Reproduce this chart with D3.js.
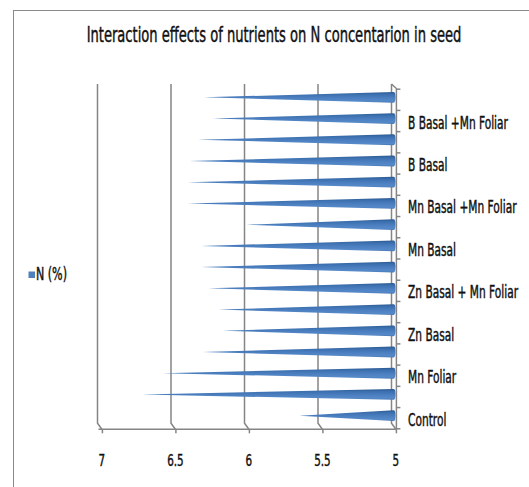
<!DOCTYPE html>
<html>
<head>
<meta charset="utf-8">
<script src="https://cdn.jsdelivr.net/npm/d3@7"></script>
<style>
  html, body { margin: 0; padding: 0; background: #fff; }
  svg text { font-family: "Liberation Sans Narrow", "DejaVu Sans Condensed", "Arial Narrow", sans-serif; fill: #111; stroke: #111; stroke-width: 0.3; }
</style>
</head>
<body>
<svg id="chart" width="529" height="487"></svg>
<script>
// ---- data (bottom to top) ----
const categories = [
  "Control", "Zn Foliar", "Mn Foliar", "B Foliar",
  "Zn Basal", "Zn Basal + Zn Foliar", "Zn Basal + Mn Foliar", "Zn Basal + B Foliar",
  "Mn Basal", "Mn Basal + Zn Foliar", "Mn Basal +Mn Foliar", "Mn Basal + B Foliar",
  "B Basal", "B Basal + Zn Foliar", "B Basal +Mn Foliar", "B Basal + B Foliar"
];
const nValues = [5.64, 6.71, 6.57, 6.30, 6.16, 6.19, 6.26, 6.31, 6.31, 6.00, 6.40, 6.40, 6.39, 6.33, 6.23, 6.29];
const xTicks = [7, 6.5, 6, 5.5, 5];
const seriesName = "N (%)";
const title = "Interaction effects of nutrients on N concentarion in seed";

const svg = d3.select("#chart");
const TS = 1.45; // vertical text stretch

// font size that makes a sample string reach a given width
function fitSize(sample, width) {
  const t = svg.append("text").attr("font-size", 20).text(sample);
  const w = t.node().getComputedTextLength();
  t.remove();
  return 20 * width / w;
}
const labelSize = fitSize("B Basal +Mn Foliar", 100);
const tickSize = fitSize("6.5", 16.5);
const titleSize = fitSize(title, 375);
const legendSize = fitSize(seriesName, 31);

// outer frame
svg.append("rect").attr("x", 13.5).attr("y", 10.5).attr("width", 600).attr("height", 600)
  .attr("fill", "none").attr("stroke", "#8a8a8a").attr("stroke-width", 1);

// scales
const xWall = d3.scaleLinear().domain([5, 7]).range([391.5, 97.5]);
const dx = 4.4, dy = 6;        // 3D depth offset (wall -> front)
const yBand = d3.scaleBand().domain(categories).range([426.3, 86.7]).padding(0);
const wallTop = 84, wallBottom = 423.3, floorY = wallBottom + dy;

// gradient for cones
const defs = svg.append("defs");
const grad = defs.append("linearGradient").attr("id", "cone").attr("x1", 0).attr("y1", 0).attr("x2", 0).attr("y2", 1);
[["0%", "#2b5a92"], ["22%", "#3c6fae"], ["55%", "#4b7fc0"], ["85%", "#5589c8"], ["100%", "#4577b4"]]
  .forEach(([o, c]) => grad.append("stop").attr("offset", o).attr("stop-color", c));

// gridlines (wall) with diagonal to front
const grid = svg.append("g").attr("fill", "none").attr("stroke", "#858585").attr("stroke-width", 1.5);
xTicks.forEach(t => {
  const x = xWall(t);
  grid.append("path").attr("d", `M${x},${wallTop} L${x},${wallBottom} L${x + dx},${floorY}`);
});

// floor (bottom) axis
const xFront = d3.scaleLinear().domain([5, 7]).range([391.5 + dx, 97.5 + dx]);
const xAxis = svg.append("g").attr("transform", `translate(0,${floorY})`)
  .call(d3.axisBottom(xFront).tickValues(xTicks).tickSize(4).tickFormat(d3.format("")));
xAxis.select(".domain").attr("stroke", "#858585").attr("stroke-width", 1.5)
  .attr("d", `M${xWall(7) + 1},0H${xFront(5) + 1}`);
xAxis.selectAll(".tick line").attr("stroke", "#858585").attr("stroke-width", 1.5);
xAxis.selectAll(".tick text").remove();
xTicks.forEach(t => {
  svg.append("text").attr("text-anchor", "middle").attr("font-size", tickSize)
    .attr("transform", `translate(${xFront(t)},466) scale(1,${TS})`).text(String(t));
});

// right (category) axis at front
const axX = xFront(5) + 0.5;
const ra = svg.append("g").attr("stroke", "#858585").attr("stroke-width", 1.5).attr("fill", "none");
ra.append("path").attr("d", `M${xWall(5)},${wallTop} L${axX},${wallTop + 4.5} L${axX},${floorY}`);
const bounds = categories.map(c => yBand(c) + yBand.bandwidth()).concat([yBand(categories[categories.length - 1])]);
bounds.forEach(b => {
  ra.append("line").attr("x1", axX).attr("x2", axX + 4).attr("y1", b + 2.5).attr("y2", b + 2.5);
});

// cones
const baseX = xWall(5) + 2, halfH = 5.4;
svg.append("g").selectAll("path").data(categories).join("path")
  .attr("fill", "url(#cone)")
  .attr("d", (c, i) => {
    const cy = yBand(c) + yBand.bandwidth() / 2;
    const tip = xWall(nValues[i]) + 2;
    return `M${tip},${cy} L${baseX},${cy - halfH} A2,${halfH} 0 0 1 ${baseX},${cy + halfH} Z`;
  });

// category labels (every other, as in reference)
categories.forEach((c, i) => {
  if (i % 2 !== 0) return;
  const cy = yBand(c) + yBand.bandwidth() / 2;
  svg.append("text").attr("font-size", labelSize)
    .attr("transform", `translate(408,${cy + 10}) scale(1,${TS})`).text(c);
});

// title
svg.append("text").attr("text-anchor", "middle").attr("font-size", titleSize)
  .attr("transform", `translate(274,42) scale(1,${TS})`).text(title);

// legend
svg.append("rect").attr("x", 28.5).attr("y", 271.5).attr("width", 6.5).attr("height", 6.5).attr("fill", "#4f81bd");
svg.append("text").attr("font-size", legendSize)
  .attr("transform", `translate(36,280) scale(1,${TS})`).text(seriesName);
</script>
</body>
</html>
